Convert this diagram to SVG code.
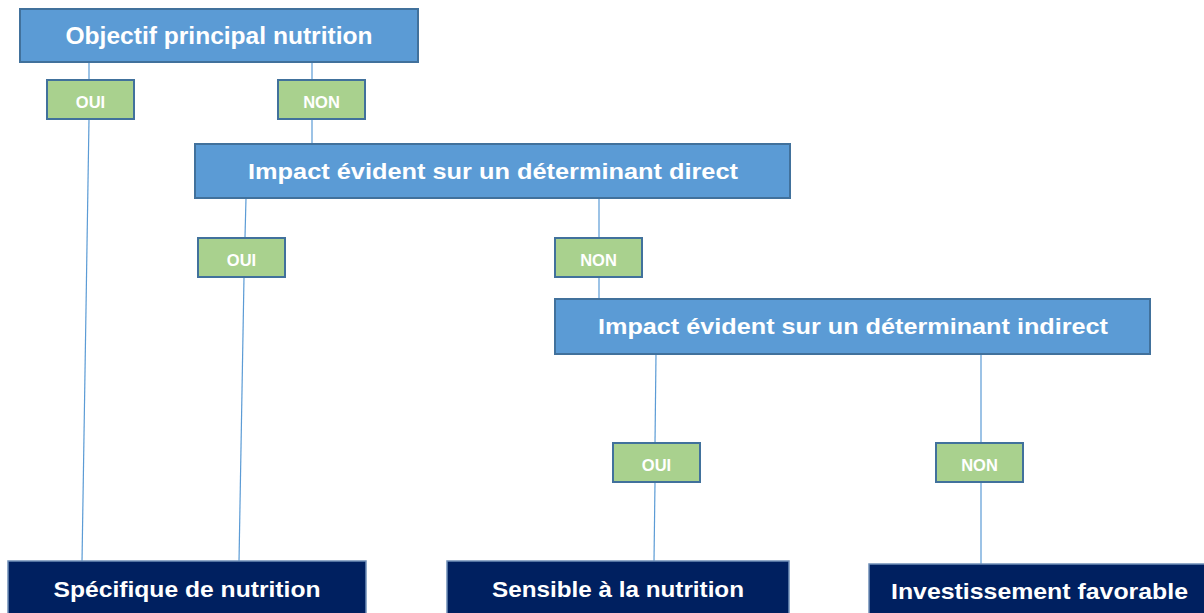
<svg xmlns="http://www.w3.org/2000/svg" width="1204" height="613" viewBox="0 0 1204 613">
<style>
.q{fill:#5B9BD5;stroke:#41719C;stroke-width:2}
.a{fill:#A9D18E;stroke:#41719C;stroke-width:2}
.r{fill:#002060;stroke:#6F8FB8;stroke-width:1.5}
.t{font-family:"Liberation Sans",Arial,sans-serif;font-weight:bold;fill:#fff;text-anchor:middle}
.s{font-size:16.5px}
.c{stroke:#5B9BD5;stroke-width:1.2;fill:none}
</style>
<rect width="1204" height="613" fill="#fff"/>
<g id="connectors">
<line class="c" x1="89" y1="62" x2="89" y2="79"/>
<line class="c" x1="89" y1="119" x2="82" y2="562"/>
<line class="c" x1="312" y1="62" x2="312" y2="79"/>
<line class="c" x1="312" y1="119" x2="312" y2="143"/>
<line class="c" x1="246" y1="198" x2="245" y2="237"/>
<line class="c" x1="244" y1="277" x2="239" y2="562"/>
<line class="c" x1="599" y1="198" x2="599" y2="237"/>
<line class="c" x1="599" y1="277" x2="599" y2="298"/>
<line class="c" x1="656" y1="354" x2="655" y2="443"/>
<line class="c" x1="655" y1="482" x2="654" y2="562"/>
<line class="c" x1="981" y1="354" x2="981" y2="443"/>
<line class="c" x1="981" y1="482" x2="981" y2="564"/>
</g>
<g id="q1"><rect class="q" x="20" y="9" width="398" height="53"/><text class="t" x="219" y="44" font-size="23" textLength="307" lengthAdjust="spacingAndGlyphs">Objectif principal nutrition</text></g>
<g id="oui1"><rect class="a" x="47" y="80" width="87" height="39"/><text class="t s" x="90.5" y="108">OUI</text></g>
<g id="non1"><rect class="a" x="278" y="80" width="87" height="39"/><text class="t s" x="321.5" y="108">NON</text></g>
<g id="q2"><rect class="q" x="195" y="144" width="595" height="54"/><text class="t" x="493" y="179" font-size="22" textLength="490" lengthAdjust="spacingAndGlyphs">Impact évident sur un déterminant direct</text></g>
<g id="oui2"><rect class="a" x="198" y="238" width="87" height="39"/><text class="t s" x="241.5" y="266">OUI</text></g>
<g id="non2"><rect class="a" x="555" y="238" width="87" height="39"/><text class="t s" x="598.5" y="266">NON</text></g>
<g id="q3"><rect class="q" x="555" y="299" width="595" height="55"/><text class="t" x="853" y="334" font-size="22" textLength="510" lengthAdjust="spacingAndGlyphs">Impact évident sur un déterminant indirect</text></g>
<g id="oui3"><rect class="a" x="613" y="443" width="87" height="39"/><text class="t s" x="656.5" y="471">OUI</text></g>
<g id="non3"><rect class="a" x="936" y="443" width="87" height="39"/><text class="t s" x="979.5" y="471">NON</text></g>
<g id="r1"><rect class="r" x="8" y="561" width="358" height="60"/><text class="t" x="187" y="597" font-size="22" textLength="267" lengthAdjust="spacingAndGlyphs">Spécifique de nutrition</text></g>
<g id="r2"><rect class="r" x="447" y="561" width="342" height="60"/><text class="t" x="618" y="597" font-size="22" textLength="252" lengthAdjust="spacingAndGlyphs">Sensible à la nutrition</text></g>
<g id="r3"><rect class="r" x="869" y="564" width="345" height="60"/><text class="t" x="1039.5" y="599" font-size="22" textLength="297" lengthAdjust="spacingAndGlyphs">Investissement favorable</text></g>
</svg>
